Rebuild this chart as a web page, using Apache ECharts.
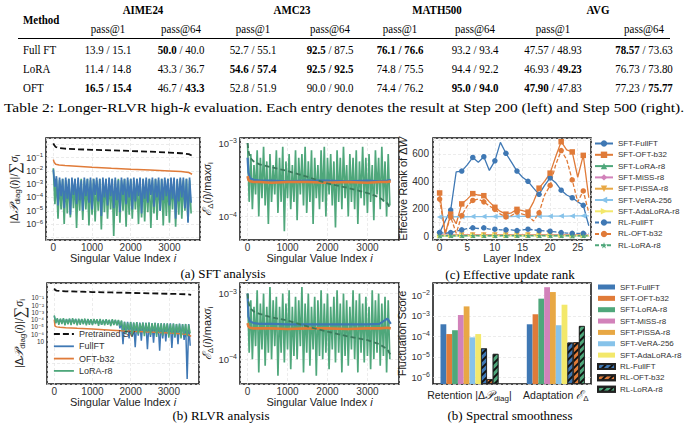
<!DOCTYPE html>
<html>
<head>
<meta charset="utf-8">
<title>Longer-RLVR high-k evaluation and spectral analysis</title>
<script src="https://cdn.jsdelivr.net/npm/echarts@6.0.0/dist/echarts.min.js"></script>
<style>
  html,body{margin:0;padding:0;background:#fff;}
  #page{position:relative;width:690px;height:428px;overflow:hidden;}
  #chart{position:absolute;left:0;top:0;width:690px;height:428px;}
  #table{position:absolute;left:0;top:0;width:690px;height:120px;}
  .tx{position:absolute;white-space:nowrap;font-family:"Liberation Serif","Times New Roman",serif;font-size:13px;color:#000;line-height:1;transform:translate(-50%,-50%) scaleX(0.84);}
  .lt{transform-origin:left center;transform:translate(0,-50%) scaleX(0.84);}
  .hd{font-weight:bold;}
  .rule{position:absolute;height:0;border-top:0.9px solid #000;}
</style>
</head>
<body>
<div id="page">
  <div id="chart"></div>
  <div id="table"></div>
</div>
<script>
    // ---------- table ----------
    var benchNames = ['AIME24', 'AMC23', 'MATH500', 'AVG'];
    var metricNames = ['pass@1', 'pass@64', 'pass@1', 'pass@64', 'pass@1', 'pass@64', 'pass@1', 'pass@64'];
    var tableMethods = ['Full FT', 'LoRA', 'OFT'];
    // Step 200 / Step 500, *..* = bold (best)
    var rowFullFT = ['13.9 / 15.1', '*50.0* / 40.0', '52.7 / 55.1', '*92.5* / 87.5', '*76.1 / 76.6*', '93.2 / 93.4', '47.57 / 48.93', '*78.57* / 73.63'];
    var rowLoRA = ['11.4 / 14.8', '43.3 / 36.7', '*54.6 / 57.4*', '*92.5 / 92.5*', '74.8 / 75.5', '94.4 / 92.2', '46.93 / *49.23*', '76.73 / 73.80'];
    var rowOFT = ['*16.5 / 15.4*', '46.7 / *43.3*', '52.8 / 51.9', '90.0 / 90.0', '74.4 / 76.2', '*95.0 / 94.0*', '*47.90* / 47.83', '77.23 / *75.77*'];
    var captionText = 'Table 2: Longer-RLVR high-<i>k</i> evaluation. Each entry denotes the result at Step 200 (left) and Step 500 (right).';

    // ---------- (a)/(b) spectra, exponents of 10 ----------
    var svTicks = [0, 1000, 2000, 3000];
    var noiseStep = 40;   // one reading every 40 singular values
    var svIdx = [0, 20, 60, 150, 300, 600, 1000, 1500, 2000, 2500, 3000, 3300, 3500, 3584];

    // SFT retention |dP_diag| / sum sigma
    var a1PreExp = [0.08, -0.05, -0.2, -0.28, -0.33, -0.37, -0.41, -0.45, -0.5, -0.55, -0.62, -0.67, -0.74, -0.85];
    var a1OftExp = [-1.15, -1.35, -1.5, -1.55, -1.6, -1.65, -1.72, -1.8, -1.87, -1.93, -2.0, -2.05, -2.12, -2.25];
    var a1FullExp = [-1.9,-3.2,-2.4,-4.6,-2.5,-3.9,-2.6,-4.8,-2.5,-4.1,-2.6,-5.3,-2.5,-3.8,-2.6,-4.5,-2.5,-4.2,-2.7,-5.0,
        -2.5,-3.9,-2.6,-4.4,-2.5,-4.9,-2.6,-3.8,-2.5,-4.3,-2.6,-5.4,-2.5,-4.0,-2.6,-4.6,-2.5,-3.9,-2.6,-4.8,
        -2.5,-4.2,-2.7,-5.1,-2.5,-3.8,-2.6,-4.5,-2.5,-4.0,-2.6,-4.9,-2.5,-4.3,-2.6,-3.9,-2.5,-5.2,-2.6,-4.1,
        -2.5,-4.4,-2.6,-3.8,-2.5,-4.7,-2.6,-4.0,-2.5,-5.0,-2.6,-4.2,-2.5,-3.9,-2.6,-4.6,-2.5,-4.1,-2.5,-5.6,
        -2.6,-4.3,-2.5,-4.0,-2.5,-4.8,-2.6,-5.9,-2.5,-4.4];
    var a1LoraExp = [-1.8,-4.5,-2.6,-5.6,-2.7,-4.9,-2.6,-6.0,-2.7,-5.2,-2.6,-5.5,-2.7,-4.8,-2.6,-6.3,-2.7,-5.0,-2.6,-5.7,
        -2.7,-4.9,-2.6,-6.1,-2.7,-5.3,-2.6,-5.8,-2.7,-5.0,-2.6,-6.4,-2.7,-5.1,-2.6,-5.6,-2.7,-4.9,-2.6,-6.9,
        -2.7,-5.4,-2.6,-5.9,-2.7,-5.0,-2.6,-6.2,-2.7,-5.3,-2.6,-5.6,-2.7,-4.9,-2.6,-6.0,-2.7,-5.5,-2.6,-5.8,
        -2.7,-5.1,-2.6,-6.3,-2.7,-5.2,-2.6,-5.7,-2.7,-5.0,-2.6,-6.1,-2.7,-5.4,-2.6,-5.9,-2.7,-4.9,-2.6,-6.2,
        -2.7,-5.3,-2.6,-5.6,-2.7,-5.0,-2.6,-5.8,-2.7,-5.2];

    // SFT adaptation E_D / max sigma
    var a2PreExp = [-3.0, -3.1, -3.2, -3.25, -3.29, -3.33, -3.38, -3.46, -3.55, -3.61, -3.68, -3.74, -3.82, -3.9];
    var a2OftExp = [-3.45, -3.5, -3.52, -3.53, -3.53, -3.54, -3.53, -3.53, -3.54, -3.53, -3.54, -3.53, -3.53, -3.52];
    var a2FullExp = [-3.2, -3.4, -3.48, -3.5, -3.51, -3.51, -3.52, -3.51, -3.51, -3.52, -3.51, -3.52, -3.51, -3.5];
    var a2LoraExp = [-3.0,-3.8,-3.15,-3.9,-3.3,-3.7,-3.1,-4.0,-3.2,-3.75,-3.05,-3.85,-3.25,-4.1,-3.15,-3.8,-3.3,-3.7,-3.1,-3.95,
        -3.2,-3.8,-3.05,-4.2,-3.25,-3.75,-3.15,-3.9,-3.3,-3.8,-3.1,-4.05,-3.2,-3.7,-3.15,-3.85,-3.05,-3.95,-3.25,-3.8,
        -3.1,-4.1,-3.2,-3.75,-3.3,-3.9,-3.1,-3.8,-3.05,-4.0,-3.2,-3.7,-3.15,-3.85,-3.25,-4.15,-3.1,-3.8,-3.2,-3.9,
        -3.05,-3.75,-3.3,-4.0,-3.15,-3.8,-3.2,-3.9,-3.1,-4.1,-3.25,-3.75,-3.05,-3.85,-3.2,-3.95,-3.15,-3.8,-3.3,-4.05,
        -3.1,-3.7,-3.2,-3.9,-3.05,-3.8,-3.25,-4.0,-3.15,-3.85];

    // RLVR retention
    var b1PreExp = [0.3, 0.12, 0.02, -0.04, -0.08, -0.12, -0.18, -0.24, -0.3, -0.36, -0.42, -0.46, -0.5, -0.56];
    var b1OftExp = [-4.0, -4.9, -5.0, -5.05, -5.12, -5.2, -5.3, -5.45, -5.6, -5.72, -5.85, -5.95, -6.05, -6.3];
    var b1FullExp = [-3.5,-4.4,-3.9,-4.5,-3.95,-4.4,-3.9,-4.6,-3.95,-4.5,-3.9,-4.55,-3.95,-4.45,-3.9,-4.6,-4.0,-4.5,-3.95,-4.55,
        -4.0,-4.6,-3.95,-4.5,-4.0,-4.65,-4.0,-4.5,-4.05,-4.6,-4.0,-4.7,-4.05,-4.55,-4.0,-4.6,-4.1,-4.7,-4.05,-4.65,
        -4.1,-4.75,-4.1,-5.2,-4.2,
        -7.4,-4.3,-5.8,-4.3,-6.6,-4.35,-5.9,-4.4,-7.8,-4.35,-6.2,-4.4,-6.9,-4.4,-5.9,-4.45,-8.1,-4.4,-6.4,-4.5,
        -7.2,-4.45,-6.0,-4.5,-8.3,-4.5,-6.6,-4.5,-7.0,-4.55,-6.1,-4.5,-7.9,-4.55,-6.5,-4.6,-7.4,-4.55,-6.2,-4.6,
        -6.8,-4.6,-12.2,-4.6,-7.6];
    var b1LoraExp = [-3.4,-4.5,-3.8,-4.7,-3.85,-4.6,-3.8,-4.8,-3.9,-4.65,-3.85,-4.75,-3.8,-4.6,-3.9,-4.8,-3.85,-4.7,-3.9,-4.65,
        -3.85,-4.8,-3.9,-4.7,-3.95,-4.75,-3.9,-4.6,-3.95,-4.85,-3.9,-4.7,-4.0,-4.8,-3.95,-4.7,-4.0,-4.9,-3.95,-4.75,
        -4.0,-4.8,-4.05,-4.9,-4.1,
        -5.5,-4.3,-5.9,-4.4,-5.4,-4.3,-6.2,-4.4,-5.6,-4.35,-6.0,-4.5,-5.5,-4.4,-6.3,-4.45,-5.7,-4.4,-6.1,-4.5,
        -5.6,-4.45,-6.4,-4.5,-5.8,-4.5,-6.2,-4.55,-5.7,-4.5,-6.5,-4.6,-5.9,-4.55,-6.3,-4.6,-5.8,-4.6,-6.6,-4.65,
        -6.0,-4.6,-6.3,-4.7,-5.9];

    // RLVR adaptation
    var b2PreExp = [-3.0, -3.12, -3.22, -3.27, -3.31, -3.36, -3.41, -3.5, -3.58, -3.65, -3.71, -3.77, -3.85, -3.94];
    var b2OftExp = [-3.45, -3.5, -3.52, -3.53, -3.53, -3.53, -3.54, -3.53, -3.53, -3.54, -3.53, -3.53, -3.52, -3.53];
    var b2FullExp = [-3.0, -3.35, -3.42, -3.45, -3.46, -3.46, -3.47, -3.47, -3.47, -3.47, -3.47, -3.46, -3.38, -3.46];
    var b2LoraExp = [-3.0,-3.9,-3.1,-4.0,-3.2,-3.8,-2.95,-4.2,-3.15,-3.85,-3.0,-4.1,-3.2,-3.9,-2.9,-4.0,-3.1,-3.8,-3.05,-4.25,
        -3.2,-3.9,-3.0,-4.05,-3.15,-3.85,-2.95,-4.15,-3.2,-3.95,-3.05,-4.0,-3.1,-3.8,-2.9,-4.2,-3.15,-3.9,-3.0,-4.1,
        -3.2,-3.85,-3.05,-4.25,-3.1,-3.95,-2.95,-4.0,-3.15,-3.9,-3.0,-4.15,-3.2,-3.85,-3.05,-4.05,-2.95,-3.9,-3.15,-4.2,
        -3.0,-3.95,-3.1,-4.1,-3.2,-3.85,-2.95,-4.0,-3.1,-4.2,-3.0,-3.9,-3.15,-4.05,-3.05,-3.95,-3.2,-4.15,-2.95,-4.0,
        -3.1,-3.9,-3.0,-4.1,-3.15,-3.95,-3.05,-4.2,-3.1,-4.0];

    // ---------- (c) effective rank per layer ----------
    var methodNames = ['SFT-FullFT', 'SFT-OFT-b32', 'SFT-LoRA-r8', 'SFT-MiSS-r8', 'SFT-PiSSA-r8', 'SFT-VeRA-256', 'SFT-AdaLoRA-r8', 'RL-FullFT', 'RL-OFT-b32', 'RL-LoRA-r8'];
    var layerTicks = [0, 5, 10, 15, 20, 25];
    var rankTicks = [0, 200, 400, 600];
    var rankSftFull = [25,110,190,470,475,520,575,540,580,480,550,685,605,540,475,430,400,350,305,370,425,390,335,300,280,250,225,75];
    var rankSftOft = [315,15,160,90,235,270,310,300,295,250,210,180,160,170,195,185,175,250,350,400,460,580,690,630,615,430,590,280];
    var rankSftLora = [4,3,5,4,5,4,6,5,5,4,5,5,6,5,5,4,5,5,6,5,5,4,5,5,4,4,5,3];
    var rankSftMiss = [8,6,9,7,9,8,10,8,9,8,9,9,10,9,9,8,9,9,10,9,9,8,9,9,8,8,9,6];
    var rankSftPissa = [6,5,7,6,7,6,7,6,7,6,7,7,7,6,7,6,7,7,7,6,7,6,7,7,6,6,7,5];
    var rankSftVera = [140,140,140,141,141,141,142,142,142,142,143,143,143,143,144,144,144,144,145,145,145,146,146,146,147,147,148,148];
    var rankSftAda = [3,2,3,3,3,3,4,3,3,3,3,3,4,3,3,3,3,3,4,3,3,3,3,3,3,3,3,2];
    var rankRlFull = [25,20,25,35,45,55,60,55,60,50,50,45,45,45,40,45,50,45,40,38,35,30,25,22,20,20,20,20];
    var rankRlOft = [270,20,140,20,150,220,260,270,250,220,195,160,140,150,175,160,150,110,170,300,370,520,625,560,410,250,330,170];
    var rankRlLora = [2,2,2,2,3,2,3,2,3,2,3,2,3,2,3,2,3,2,3,2,3,2,2,2,2,2,2,2];
    var rankData = [rankSftFull, rankSftOft, rankSftLora, rankSftMiss, rankSftPissa, rankSftVera, rankSftAda, rankRlFull, rankRlOft, rankRlLora];

    // ---------- (b) spectral smoothness ----------
    var smoothGroups = ['Retention', 'Adaptation'];
    var retentionScore = [3.9e-4, 1.3e-4, 2.0e-4, 1.1e-3, 2.9e-3, 9.0e-5, 1.3e-4, 2.6e-5, 8.3e-7, 1.4e-5];
    var adaptationScore = [3.9e-4, 1.2e-3, 6.9e-3, 2.5e-2, 1.45e-2, 3.5e-4, 3.5e-3, 5.0e-5, 5.2e-5, 3.2e-4];

    // ================= drawing =================
    var sans = '"Liberation Sans", Arial, "DejaVu Sans", sans-serif';
    var serif = '"Liberation Serif", "Times New Roman", serif';
    var cBlue = '#3f78b4', cOrange = '#e07b39', cGreen = '#4fa77b', cPink = '#d282ba',
        cGold = '#e8a844', cSky = '#87c3ea', cYellow = '#f3e86b';
    var methodColors = [cBlue, cOrange, cGreen, cPink, cGold, cSky, cYellow, cBlue, cOrange, cGreen];
    var starPath = 'path://M50,0 L61,35 L98,35 L68,57 L79,91 L50,70 L21,91 L32,57 L2,35 L39,35 Z';
    var methodSymbols = ['circle', 'rect', 'triangle', 'diamond', 'triangle', 'triangle', 'triangle', 'circle', 'circle', starPath];
    var methodRotate = [0, 0, 0, 0, 180, 90, -90, 0, 0, 0];

    // table as real text
    var tbl = document.getElementById('table');
    function put(html, x, y, cls, leftAlign) {
        var d = document.createElement('div');
        d.className = 'tx ' + (cls || '') + (leftAlign ? ' lt' : '');
        d.innerHTML = html;
        d.style.left = x + 'px';
        d.style.top = y + 'px';
        tbl.appendChild(d);
        return d;
    }
    function boldify(s) { return s.replace(/\*([^*]+)\*/g, '<b>$1</b>'); }
    var colX = [108, 181, 253, 330, 400, 475, 553, 644];
    var benchX = [143, 292, 437, 598];
    put('Method', 23, 19, 'hd', true);
    benchNames.forEach(function (b, k) { put(b, benchX[k], 9, 'hd'); });
    metricNames.forEach(function (m, k) { put(m, colX[k], 28); });
    var rule = document.createElement('div');
    rule.className = 'rule';
    rule.style.left = '18px'; rule.style.width = '652px'; rule.style.top = '38px';
    tbl.appendChild(rule);
    [rowFullFT, rowLoRA, rowOFT].forEach(function (row, r) {
        var y = 49 + r * 19;
        put(tableMethods[r], 23, y, '', true);
        row.forEach(function (cell, k) { put(boldify(cell), colX[k], y); });
    });
    var cap = put(captionText, 4, 106.5, '', true);
    cap.style.transform = 'translate(0,-50%)';
    var capW = cap.getBoundingClientRect().width;
    cap.style.transform = 'translate(0,-50%) scaleX(' + (680 / capW) + ')';

    function pow10(e) { return Math.pow(10, e); }
    function linePts(xs, exps) { return exps.map(function (e, k) { return [xs[k], pow10(e)]; }); }
    function noisePts(exps) { return exps.map(function (e, k) { return [k * noiseStep, pow10(e)]; }); }
    function plainNum(v) { return String(v); }

    function supRich(size) {
        return {
            b: {fontSize: size, fontFamily: sans, color: '#333'},
            e: {fontSize: Math.round(size * 0.7), fontFamily: sans, color: '#333', padding: [0, 0, Math.round(size * 0.55), 0]}
        };
    }
    function expLabel(v) {
        var e = Math.round(Math.log10(v));
        return '{b|10}{e|\u2212' + (-e) + '}';
    }
    var supChars = {'1': '\u00b9', '2': '\u00b2', '3': '\u00b3', '4': '\u2074', '5': '\u2075', '6': '\u2076', '7': '\u2077'};
    function compactExpLabel(v) {
        var e = Math.round(Math.log10(v));
        if (e === -7) return '10';
        return '10\u207b' + supChars[String(-e)];
    }
    var nameRich = {
        it: {fontStyle: 'italic', fontSize: 11, fontFamily: sans, color: '#222'},
        sub: {fontSize: 8, fontFamily: sans, color: '#222', padding: [7, 0, 0, 0]},
        cal: {fontSize: 12, fontFamily: serif, fontStyle: 'italic', color: '#222'},
        sum: {fontSize: 16, fontFamily: serif, color: '#222'},
        s: {fontSize: 12, fontFamily: serif, fontStyle: 'italic', color: '#222'}
    };
    var gridLine = {lineStyle: {color: '#e4e4e4', type: [3, 2], width: 0.7}};

    var grids = [
        {left: 46, top: 138, width: 154, height: 102},
        {left: 240, top: 138, width: 159, height: 102},
        {left: 433, top: 138, width: 158, height: 102},
        {left: 47, top: 283, width: 152, height: 101},
        {left: 240, top: 283, width: 159, height: 101},
        {left: 433, top: 283, width: 158, height: 101}
    ].map(function (g) {
        return Object.assign({show: true, borderColor: '#111', borderWidth: 1.5, backgroundColor: '#fff', outerBoundsMode: 'none', containLabel: false}, g);
    });

    function svX(gi, gap) {
        return {
            type: 'value', gridIndex: gi, min: -190, max: 3790,
            axisLine: {show: false}, axisTick: {show: false}, splitLine: gridLine,
            axisLabel: {customValues: svTicks, formatter: plainNum, margin: 2, color: '#333', fontSize: 10, fontFamily: sans},
            name: 'Singular Value Index {it|i}', nameLocation: 'middle', nameGap: gap,
            nameTextStyle: {fontSize: 11, fontFamily: sans, color: '#222', rich: nameRich}
        };
    }
    function logY(gi, lo, hi, ticks, name, gap, labelSize) {
        return {
            type: 'log', logBase: 10, gridIndex: gi, min: lo, max: hi, startValue: lo,
            axisLine: {show: false}, axisTick: {show: false}, splitLine: gridLine,
            axisLabel: {customValues: ticks, margin: 3, rich: supRich(labelSize), formatter: expLabel},
            name: name, nameLocation: 'middle', nameGap: gap, nameRotate: 90,
            nameTextStyle: {fontSize: 11, fontFamily: sans, color: '#222', rich: nameRich}
        };
    }

    var retName = '|\u0394{cal|\ud835\udcab}{sub|diag}({it|i})|/{sum|\u2211}{s|\u03c3}{sub|i}';
    var adaName = '{cal|\u2130}{sub|\u0394}({it|i})/max{s|\u03c3}{sub|i}';

    // RLVR retention axis: seven decade labels packed tightly
    var b1Y = logY(3, 1.26e-13, 11.7, [1e-7, 1e-6, 1e-5, 1e-4, 1e-3, 1e-2, 1e-1], retName, 19, 8);
    b1Y.axisLabel = {customValues: [1e-7, 1e-6, 1e-5, 1e-4, 1e-3, 1e-2, 1e-1], margin: 3, formatter: compactExpLabel,
        fontSize: 6.3, lineHeight: 6.5, fontFamily: sans, color: '#333'};

    var xAxes = [
        svX(0, 11),
        svX(1, 11),
        {
            type: 'value', gridIndex: 2, min: -1.2, max: 27.4,
            axisLine: {show: false}, axisTick: {show: false}, splitLine: gridLine,
            axisLabel: {customValues: layerTicks, formatter: plainNum, margin: 2, color: '#333', fontSize: 10, fontFamily: sans},
            name: 'Layer Index', nameLocation: 'middle', nameGap: 11,
            nameTextStyle: {fontSize: 11, fontFamily: sans, color: '#222'}
        },
        svX(3, 12),
        svX(4, 12),
        {
            type: 'value', gridIndex: 5, min: -0.423, max: 1.408,
            axisLine: {show: false}, axisTick: {show: false}, splitLine: {show: false},
            axisLabel: {
                customValues: [0, 1], margin: 3, color: '#222', fontSize: 10.5, fontFamily: sans, rich: nameRich,
                formatter: function (v) {
                    return v < 0.5 ? smoothGroups[0] + ' |\u0394{cal|\ud835\udcab}{sub|diag}|' : smoothGroups[1] + ' {cal|\u2130}{sub|\u0394}';
                }
            }
        }
    ];
    var yAxes = [
        logY(0, 6.3e-8, 3.0, [1e-6, 1e-5, 1e-4, 1e-3, 1e-2, 1e-1], retName, 19, 9),
        logY(1, 4.8e-5, 1.17e-3, [1e-4, 1e-3], adaName, 17, 9.5),
        {
            type: 'value', gridIndex: 2, min: -29, max: 717,
            axisLine: {show: false}, axisTick: {show: false}, splitLine: gridLine,
            axisLabel: {customValues: rankTicks, formatter: plainNum, margin: 4, color: '#333', fontSize: 10, fontFamily: sans},
            name: 'Effective Rank of \u0394{it|W}', nameLocation: 'middle', nameGap: 21, nameRotate: 90,
            nameTextStyle: {fontSize: 11, fontFamily: sans, color: '#222', rich: nameRich}
        },
        b1Y,
        logY(4, 4.2e-5, 1.45e-3, [1e-4, 1e-3], adaName, 17, 9.5),
        logY(5, 4.8e-7, 0.04, [1e-6, 1e-5, 1e-4, 1e-3, 1e-2], 'Fluctuation Score', 24, 9.5)
    ];

    function lineSeries(name, gi, data, color, width, dash) {
        return {
            type: 'line', name: name, xAxisIndex: gi, yAxisIndex: gi, data: data,
            symbol: 'none', showSymbol: false, silent: true, animation: false,
            lineStyle: {color: color, width: width, type: dash || 'solid'},
            itemStyle: {color: color}
        };
    }
    var preGreen = '#3b7a5c';
    var series = [
        // (a) SFT retention
        lineSeries('LoRA-r8', 0, noisePts(a1LoraExp), cGreen, 1.7),
        lineSeries('FullFT', 0, noisePts(a1FullExp), cBlue, 1.7),
        lineSeries('OFT-b32', 0, linePts(svIdx, a1OftExp), cOrange, 1.5),
        lineSeries('Pretrained SV', 0, linePts(svIdx, a1PreExp), '#111', 1.8, [6, 3]),
        // (a) SFT adaptation
        lineSeries('LoRA-r8', 1, noisePts(a2LoraExp), cGreen, 1.7),
        lineSeries('FullFT', 1, linePts(svIdx, a2FullExp), cBlue, 2.2),
        lineSeries('OFT-b32', 1, linePts(svIdx, a2OftExp), cOrange, 2.6),
        lineSeries('Pretrained SV (scaled)', 1, linePts(svIdx, a2PreExp), preGreen, 1.8, [5, 3]),
        // (b) RLVR retention
        lineSeries('FullFT', 3, noisePts(b1FullExp), cBlue, 1.5),
        lineSeries('OFT-b32', 3, linePts(svIdx, b1OftExp), cOrange, 1.5),
        lineSeries('LoRA-r8', 3, noisePts(b1LoraExp), cGreen, 1.5),
        lineSeries('Pretrained SV', 3, linePts(svIdx, b1PreExp), '#111', 1.8, [6, 3]),
        // (b) RLVR adaptation
        lineSeries('LoRA-r8', 4, noisePts(b2LoraExp), cGreen, 1.7),
        lineSeries('FullFT', 4, linePts(svIdx, b2FullExp), cBlue, 2.2),
        lineSeries('OFT-b32', 4, linePts(svIdx, b2OftExp), cOrange, 2.6),
        lineSeries('Pretrained SV (scaled)', 4, linePts(svIdx, b2PreExp), preGreen, 1.8, [5, 3])
    ];

    // (c) effective update rank, marker on every second layer
    methodNames.forEach(function (nm, k) {
        series.push({
            type: 'line', name: nm, xAxisIndex: 2, yAxisIndex: 2, animation: false, silent: true,
            data: rankData[k].map(function (v, l) { return {value: [l, v], symbolSize: l % 2 === 0 ? 5.5 : 0}; }),
            symbol: methodSymbols[k], symbolRotate: methodRotate[k], symbolSize: 5.5, showAllSymbol: true,
            lineStyle: {color: methodColors[k], width: 1.3, type: k >= 7 ? [4, 2] : 'solid'},
            itemStyle: {color: methodColors[k]}
        });
    });

    // (b) spectral smoothness bars
    var hatch = {symbol: 'rect', symbolSize: 1, dashArrayX: [1, 0], dashArrayY: [1.2, 2.6], rotation: -Math.PI / 4, color: '#111'};
    methodNames.forEach(function (nm, k) {
        var rl = k >= 7;
        series.push({
            type: 'bar', name: nm + '|bar', xAxisIndex: 5, yAxisIndex: 5, animation: false, silent: true,
            barWidth: 5.8, barGap: '0%',
            data: [[0, retentionScore[k]], [1, adaptationScore[k]]],
            itemStyle: {color: methodColors[k], borderColor: rl ? '#222' : methodColors[k], borderWidth: rl ? 0.7 : 0, decal: rl ? hatch : null}
        });
    });

    var legendText = {fontSize: 8, fontFamily: sans, color: '#333', lineHeight: 8};
    var option = {
        animation: false,
        backgroundColor: '#fff',
        grid: grids,
        xAxis: xAxes,
        yAxis: yAxes,
        series: series,
        legend: [
            {
                data: ['Pretrained SV', 'FullFT', 'OFT-b32', 'LoRA-r8'], orient: 'vertical', left: 53, top: 329.5,
                itemWidth: 20, itemHeight: 9, itemGap: 3.3, selectedMode: false, padding: 0,
                lineStyle: {width: 1.8},
                itemStyle: {color: 'rgba(0,0,0,0)', borderColor: 'rgba(0,0,0,0)', borderWidth: 0},
                textStyle: {fontSize: 9, fontFamily: sans, color: '#333', lineHeight: 9}
            },
            {
                data: methodNames, orient: 'vertical', left: 594, top: 139.5,
                itemWidth: 18, itemHeight: 8, itemGap: 3.3, selectedMode: false, padding: 0,
                textStyle: legendText
            },
            {
                data: methodNames.map(function (n) { return n + '|bar'; }), orient: 'vertical', left: 597, top: 283,
                itemWidth: 17, itemHeight: 5, itemGap: 3.35, selectedMode: false, padding: 0, icon: 'rect',
                formatter: function (n) { return n.split('|')[0]; },
                textStyle: legendText
            }
        ],
        graphic: [
            {type: 'text', style: {text: '(a) SFT analysis', x: 223, y: 273, align: 'center', verticalAlign: 'middle', font: '13px ' + serif, fill: '#000'}},
            {type: 'text', style: {text: '(c) Effective update rank', x: 510, y: 274, align: 'center', verticalAlign: 'middle', font: '13px ' + serif, fill: '#000'}},
            {type: 'text', style: {text: '(b) RLVR analysis', x: 221, y: 415, align: 'center', verticalAlign: 'middle', font: '13px ' + serif, fill: '#000'}},
            {type: 'text', style: {text: '(b) Spectral smoothness', x: 510, y: 415, align: 'center', verticalAlign: 'middle', font: '13px ' + serif, fill: '#000'}}
        ]
    };

    var chart = echarts.init(document.getElementById('chart'), null, {renderer: 'svg'});
    chart.setOption(option);
</script>
</body>
</html>
